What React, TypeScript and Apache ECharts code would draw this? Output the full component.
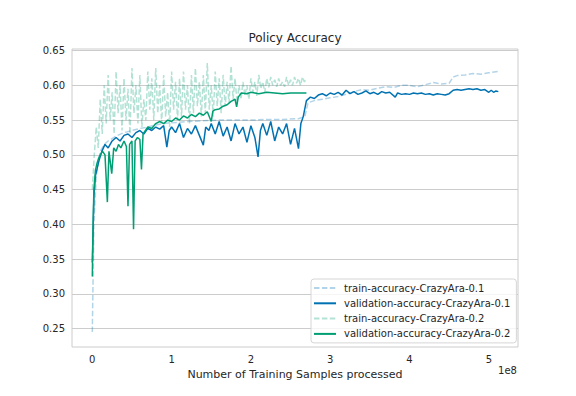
import React, { useEffect, useRef } from "react";
import * as echarts from "echarts";

// x: number of training samples processed (in units of 1e8), y: policy accuracy
const trainAcc01: [number, number][] = [
  [0.0, 0.245], [0.02, 0.4], [0.05, 0.47], [0.1, 0.505], [0.15, 0.515], [0.2, 0.52],
  [0.3, 0.527], [0.4, 0.532], [0.5, 0.535], [0.6, 0.538], [0.7, 0.54], [0.8, 0.543],
  [0.9, 0.545], [1.0, 0.546], [1.2, 0.548], [1.4, 0.549], [1.6, 0.55], [1.8, 0.55],
  [2.0, 0.55], [2.2, 0.551], [2.4, 0.551], [2.6, 0.552], [2.68, 0.555], [2.72, 0.575],
  [2.8, 0.578], [2.9, 0.58], [3.0, 0.582], [3.1, 0.584], [3.2, 0.587], [3.3, 0.591],
  [3.4, 0.594], [3.5, 0.593], [3.6, 0.596], [3.7, 0.598], [3.8, 0.597], [3.9, 0.6],
  [4.0, 0.6], [4.1, 0.598], [4.2, 0.601], [4.3, 0.604], [4.4, 0.602], [4.5, 0.603],
  [4.55, 0.612], [4.6, 0.614], [4.7, 0.615], [4.8, 0.617], [4.9, 0.616], [5.0, 0.618],
  [5.12, 0.62],
];

const valAcc01: [number, number][] = [
  [0.0, 0.345], [0.02, 0.44], [0.04, 0.47], [0.08, 0.49], [0.12, 0.505], [0.16, 0.515],
  [0.2, 0.51], [0.25, 0.52], [0.3, 0.525], [0.35, 0.52], [0.4, 0.528], [0.45, 0.53],
  [0.5, 0.525], [0.55, 0.532], [0.6, 0.535], [0.65, 0.53], [0.7, 0.538], [0.75, 0.535],
  [0.8, 0.54], [0.85, 0.537], [0.9, 0.542], [0.94, 0.511], [0.97, 0.535], [1.0, 0.54],
  [1.05, 0.532], [1.1, 0.545], [1.15, 0.525], [1.2, 0.538], [1.25, 0.53], [1.3, 0.542],
  [1.35, 0.528], [1.4, 0.514], [1.43, 0.54], [1.47, 0.535], [1.5, 0.545], [1.55, 0.53],
  [1.6, 0.548], [1.65, 0.527], [1.7, 0.54], [1.75, 0.52], [1.8, 0.545], [1.85, 0.53],
  [1.9, 0.54], [1.95, 0.518], [2.0, 0.542], [2.05, 0.525], [2.09, 0.497], [2.12, 0.535],
  [2.15, 0.545], [2.2, 0.528], [2.25, 0.548], [2.3, 0.52], [2.35, 0.54], [2.4, 0.53],
  [2.45, 0.545], [2.5, 0.515], [2.55, 0.538], [2.6, 0.509], [2.63, 0.545], [2.66, 0.555],
  [2.7, 0.578], [2.75, 0.583], [2.8, 0.581], [2.85, 0.586], [2.9, 0.588], [2.95, 0.585],
  [3.0, 0.589], [3.05, 0.587], [3.1, 0.59], [3.15, 0.586], [3.2, 0.593], [3.25, 0.588],
  [3.3, 0.591], [3.35, 0.587], [3.4, 0.589], [3.45, 0.592], [3.5, 0.588], [3.55, 0.59],
  [3.6, 0.587], [3.65, 0.591], [3.7, 0.589], [3.75, 0.59], [3.82, 0.583], [3.85, 0.589],
  [3.9, 0.587], [3.95, 0.588], [4.0, 0.587], [4.05, 0.589], [4.1, 0.588], [4.15, 0.589],
  [4.2, 0.587], [4.25, 0.588], [4.3, 0.586], [4.35, 0.588], [4.4, 0.587], [4.45, 0.586],
  [4.5, 0.588], [4.55, 0.593], [4.6, 0.594], [4.65, 0.593], [4.7, 0.594], [4.75, 0.595],
  [4.8, 0.594], [4.85, 0.595], [4.9, 0.593], [4.95, 0.594], [5.0, 0.59], [5.03, 0.593],
  [5.06, 0.59], [5.09, 0.592], [5.12, 0.591],
];

const trainAcc02: [number, number][] = [
  [0.0, 0.45], [0.025, 0.5], [0.05, 0.54], [0.075, 0.51], [0.1, 0.58], [0.125, 0.53],
  [0.15, 0.6], [0.175, 0.545], [0.2, 0.615], [0.225, 0.55], [0.25, 0.59], [0.275, 0.53],
  [0.3, 0.62], [0.325, 0.56], [0.35, 0.6], [0.375, 0.535], [0.4, 0.61], [0.425, 0.55],
  [0.45, 0.595], [0.475, 0.53], [0.5, 0.625], [0.525, 0.56], [0.55, 0.6], [0.575, 0.545],
  [0.6, 0.615], [0.625, 0.54], [0.65, 0.58], [0.675, 0.55], [0.7, 0.62], [0.725, 0.565],
  [0.75, 0.61], [0.775, 0.55], [0.8, 0.625], [0.825, 0.56], [0.85, 0.6], [0.875, 0.545],
  [0.9, 0.615], [0.925, 0.555], [0.95, 0.59], [0.975, 0.54], [1.0, 0.62], [1.025, 0.565],
  [1.05, 0.605], [1.075, 0.55], [1.1, 0.61], [1.125, 0.555], [1.15, 0.62], [1.175, 0.565],
  [1.2, 0.6], [1.225, 0.545], [1.25, 0.615], [1.275, 0.56], [1.3, 0.625], [1.325, 0.57],
  [1.35, 0.605], [1.375, 0.555], [1.4, 0.615], [1.425, 0.56], [1.45, 0.632], [1.475, 0.565],
  [1.5, 0.6], [1.525, 0.555], [1.55, 0.62], [1.575, 0.57], [1.6, 0.61], [1.625, 0.56],
  [1.65, 0.615], [1.675, 0.57], [1.7, 0.605], [1.725, 0.575], [1.75, 0.628], [1.775, 0.58],
  [1.8, 0.61], [1.825, 0.575], [1.85, 0.6], [1.875, 0.58], [1.9, 0.605], [1.925, 0.585],
  [1.95, 0.6], [1.975, 0.58], [2.0, 0.61], [2.025, 0.59], [2.05, 0.605], [2.075, 0.585],
  [2.1, 0.615], [2.125, 0.595], [2.15, 0.605], [2.175, 0.59], [2.2, 0.61], [2.225, 0.597],
  [2.25, 0.612], [2.275, 0.6], [2.3, 0.608], [2.325, 0.598], [2.35, 0.61], [2.375, 0.6],
  [2.4, 0.605], [2.425, 0.598], [2.45, 0.612], [2.475, 0.6], [2.5, 0.608], [2.525, 0.6],
  [2.55, 0.612], [2.575, 0.603], [2.6, 0.61], [2.625, 0.6], [2.65, 0.612], [2.675, 0.605],
  [2.7, 0.61],
];

const valAcc02: [number, number][] = [
  [0.0, 0.325], [0.01, 0.4], [0.02, 0.45], [0.04, 0.478], [0.06, 0.488], [0.08, 0.495],
  [0.1, 0.5], [0.13, 0.505], [0.16, 0.5], [0.19, 0.432], [0.21, 0.505], [0.245, 0.473],
  [0.27, 0.51], [0.3, 0.505], [0.33, 0.515], [0.36, 0.51], [0.4, 0.52], [0.43, 0.512],
  [0.45, 0.426], [0.47, 0.515], [0.5, 0.52], [0.52, 0.393], [0.54, 0.52], [0.57, 0.525],
  [0.6, 0.522], [0.62, 0.479], [0.64, 0.53], [0.67, 0.535], [0.7, 0.54], [0.75, 0.538],
  [0.8, 0.545], [0.85, 0.548], [0.9, 0.545], [0.95, 0.55], [1.0, 0.548], [1.05, 0.553],
  [1.1, 0.55], [1.15, 0.556], [1.2, 0.553], [1.25, 0.558], [1.3, 0.555], [1.35, 0.56],
  [1.4, 0.557], [1.45, 0.562], [1.5, 0.548], [1.52, 0.563], [1.55, 0.565], [1.6, 0.566],
  [1.65, 0.57], [1.7, 0.572], [1.75, 0.577], [1.8, 0.58], [1.82, 0.569], [1.84, 0.583],
  [1.88, 0.589], [1.95, 0.588], [2.0, 0.59], [2.05, 0.589], [2.1, 0.588], [2.15, 0.589],
  [2.2, 0.59], [2.3, 0.589], [2.4, 0.588], [2.5, 0.589], [2.6, 0.589], [2.7, 0.589],
];

const seriesNames = [
  "train-accuracy-CrazyAra-0.1",
  "validation-accuracy-CrazyAra-0.1",
  "train-accuracy-CrazyAra-0.2",
  "validation-accuracy-CrazyAra-0.2",
];
const yTicks = [0.25, 0.3, 0.35, 0.4, 0.45, 0.5, 0.55, 0.6, 0.65];
const xTicks = [0, 1, 2, 3, 4, 5];

const FONT = "DejaVu Sans";
const TXT = "#262626";

export default function App() {
  const ref = useRef<HTMLDivElement>(null);
  useEffect(() => {
    if (!ref.current) return;
    const chart = echarts.init(ref.current, null, { renderer: "svg" });
    const data = [trainAcc01, valAcc01, trainAcc02, valAcc02];
    const colors = [
      "rgba(0,114,178,0.3)",
      "#0072b2",
      "rgba(0,158,115,0.3)",
      "#009e73",
    ];
    chart.setOption({
      animation: false,
      textStyle: { fontFamily: FONT },
      grid: {
        left: 72,
        right: 58,
        top: 49,
        bottom: 49,
        show: true,
        borderColor: "#cccccc",
        borderWidth: 1,
      },
      graphic: [
        {
          type: "text",
          x: 295,
          y: 38,
          style: {
            text: "Policy Accuracy",
            fill: TXT,
            font: `12px "${FONT}"`,
            align: "center",
            verticalAlign: "middle",
          },
        },
        {
          type: "text",
          x: 517,
          y: 370,
          style: {
            text: "1e8",
            fill: TXT,
            font: `10px "${FONT}"`,
            align: "right",
            verticalAlign: "middle",
          },
        },
      ],
      xAxis: {
        type: "value",
        min: -0.256,
        max: 5.368,
        name: "Number of Training Samples processed",
        nameLocation: "middle",
        nameGap: 19,
        nameTextStyle: { color: TXT, fontSize: 11, fontFamily: FONT, verticalAlign: "top" },
        axisLine: { show: false },
        axisTick: { show: false, customValues: xTicks },
        splitLine: { show: false },
        axisLabel: {
          customValues: xTicks,
          color: TXT,
          fontSize: 10,
          fontFamily: FONT,
          margin: 7,
          formatter: (v: number) => String(Math.round(v)),
        },
      },
      yAxis: {
        type: "value",
        min: 0.2235,
        max: 0.6523,
        axisLine: { show: false },
        axisTick: { show: false, customValues: yTicks },
        splitLine: { show: true, lineStyle: { color: "#cccccc", width: 1 } },
        axisLabel: {
          customValues: yTicks,
          color: TXT,
          fontSize: 10,
          fontFamily: FONT,
          margin: 7,
          formatter: (v: number) => v.toFixed(2),
        },
      },
      legend: {
        orient: "vertical",
        left: 311,
        top: 279,
        padding: [3, 6, 3, 2],
        itemWidth: 22,
        itemHeight: 12,
        itemGap: 3.3,
        backgroundColor: "rgba(255,255,255,0.8)",
        borderColor: "#d6d6d6",
        borderWidth: 1,
        borderRadius: 3,
        itemStyle: { opacity: 0 },
        textStyle: { color: TXT, fontSize: 10, fontFamily: FONT, padding: [0, 0, 0, 3], lineHeight: 12 },
        data: seriesNames,
      },
      series: seriesNames.map((name, i) => ({
        name,
        type: "line",
        data: data[i],
        symbol: "none",
        showSymbol: false,
        color: colors[i],
        lineStyle: {
          color: colors[i],
          width: 1.5,
          type: i % 2 === 0 ? [5.5, 2.4] : "solid",
        },
        z: 2 + i,
      })),
    });
    return () => chart.dispose();
  }, []);
  return (
    <div
      ref={ref}
      style={{ position: "absolute", left: 0, top: 0, width: 576, height: 396 }}
    />
  );
}
